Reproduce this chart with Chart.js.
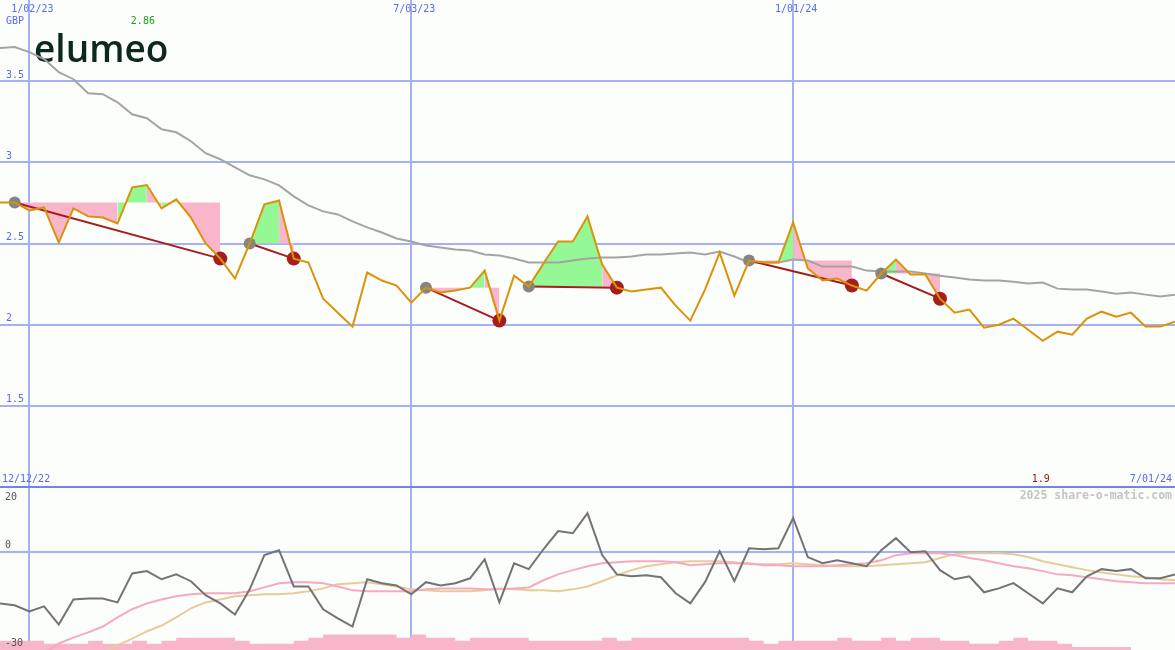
<!DOCTYPE html>
<html>
<head>
<meta charset="utf-8">
<script src="https://cdn.jsdelivr.net/npm/chart.js@4.4.1/dist/chart.umd.min.js"></script>
<style>
  html, body { margin: 0; padding: 0; background: #fcfefc; }
  #wrap { position: relative; width: 1175px; height: 650px; overflow: hidden; }
  #priceBox { position: absolute; left: 0; top: 0; width: 1175px; height: 489px; z-index: 2; }
  #oscBox { position: absolute; left: 0; top: 487px; width: 1175px; height: 163px; z-index: 1; }
</style>
</head>
<body>
<div id="wrap">
  <div id="oscBox"><canvas id="oscChart"></canvas></div>
  <div id="priceBox"><canvas id="priceChart"></canvas></div>
</div>
<script>
// weeks, index 0 = 19 Dec 2022 ... 80 = 1 Jul 2024
const weekIdx = Array.from({length: 81}, (_, i) => i);
const xTickIdx = [2, 28, 54];
const xTickLabels = ['1/02/23', '7/03/23', '1/01/24'];
const firstDate = '12/12/22';
const lastDate = '7/01/24';
const priceTicks = [1.5, 2, 2.5, 3, 3.5];
const oscTicks = [-30, 0, 20];

// weekly close, GBP
const price = [
  2.753, 2.753, 2.704, 2.722, 2.506, 2.716, 2.667, 2.660, 2.623, 2.846,
  2.86, 2.716, 2.772, 2.660, 2.500, 2.407, 2.284, 2.500, 2.741, 2.765,
  2.407, 2.383, 2.160, 2.074, 1.988, 2.321, 2.272, 2.241, 2.136, 2.228,
  2.198, 2.210, 2.228, 2.333, 2.025, 2.302, 2.235, 2.377, 2.512, 2.512,
  2.667, 2.370, 2.228, 2.204, 2.216, 2.228, 2.117, 2.025, 2.216, 2.444,
  2.179, 2.395, 2.383, 2.383, 2.630, 2.346, 2.272, 2.284, 2.241, 2.210,
  2.315, 2.401, 2.309, 2.309, 2.160, 2.074, 2.093, 1.981, 2.000, 2.037,
  1.969, 1.90, 1.957, 1.938, 2.037, 2.080, 2.049, 2.074, 1.988, 1.988, 2.019
];

// long moving average
const avg = [
  3.704, 3.710, 3.679, 3.636, 3.556, 3.512, 3.426, 3.420, 3.370, 3.296,
  3.272, 3.204, 3.185, 3.130, 3.056, 3.019, 2.969, 2.920, 2.895, 2.858,
  2.790, 2.735, 2.698, 2.679, 2.636, 2.599, 2.568, 2.531, 2.512, 2.488,
  2.475, 2.463, 2.457, 2.432, 2.426, 2.407, 2.383, 2.383, 2.383, 2.395,
  2.407, 2.414, 2.414, 2.420, 2.432, 2.432, 2.438, 2.444, 2.432, 2.451,
  2.420, 2.383, 2.383, 2.383, 2.401, 2.395, 2.358, 2.358, 2.358, 2.333,
  2.327, 2.327, 2.327, 2.315, 2.302, 2.290, 2.278, 2.272, 2.272, 2.265,
  2.253, 2.259, 2.222, 2.216, 2.216, 2.204, 2.191, 2.198, 2.185, 2.173, 2.185
];

// falling trends: start week -> end week
const trendStart = [1, 17, 29, 36, 51, 60];
const trendEnd = [15, 20, 34, 42, 58, 64];

// lower panel
const osc = [
  -15.7, -16.3, -18.2, -16.6, -22.2, -14.5, -14.2, -14.2, -15.4, -6.5,
  -5.8, -8.3, -6.8, -8.9, -13.2, -15.7, -19.1, -11.4, -0.9, 0.6,
  -10.5, -10.5, -17.5, -20.3, -22.8, -8.3, -9.5, -10.2, -12.9, -9.2,
  -10.2, -9.5, -8.0, -2.2, -15.4, -3.4, -5.2, 0.9, 6.5, 5.8,
  12.0, -0.9, -6.8, -7.4, -7.1, -7.7, -12.6, -15.7, -9.2, 0.3,
  -8.9, 1.2, 0.9, 1.2, 10.5, -1.5, -3.4, -2.5, -3.4, -4.3,
  0.6, 4.3, 0.0, 0.3, -5.5, -8.3, -7.4, -12.3, -11.1, -9.5,
  -12.6, -15.7, -11.1, -12.3, -7.4, -5.2, -5.8, -5.2, -8.0, -8.0, -6.8
];
const oscAvgFast = [
  null, null, null, -31.0, -28.0, -26.2, -24.6, -22.8, -20.0, -17.5,
  -15.7, -14.5, -13.5, -12.9, -12.6, -12.6, -12.6, -12.0, -10.8, -9.5,
  -9.2, -9.2, -9.5, -10.5, -11.7, -12.0, -12.0, -12.0, -12.0, -11.4,
  -11.1, -11.1, -11.1, -11.4, -11.4, -11.1, -10.8, -8.6, -6.8, -5.5,
  -4.3, -3.4, -3.1, -2.8, -2.8, -2.8, -3.1, -4.0, -3.7, -3.4,
  -3.4, -3.4, -4.0, -4.0, -4.3, -4.3, -4.3, -4.0, -3.7, -3.4,
  -2.5, -0.9, -0.3, -0.3, -0.3, -0.9, -1.8, -2.5, -3.4, -4.3,
  -4.9, -5.8, -6.8, -7.1, -7.7, -8.3, -8.9, -9.2, -9.5, -9.5, -9.5
];
const oscAvgSlow = [
  null, null, null, null, null, null, null, -30.8, -28.6, -26.5,
  -24.3, -22.5, -20.0, -17.2, -15.4, -14.5, -13.5, -13.2, -12.9, -12.9,
  -12.6, -12.0, -11.1, -9.8, -9.5, -9.2, -9.8, -10.5, -11.4, -11.7,
  -12.0, -12.0, -12.0, -11.7, -11.1, -11.4, -11.7, -11.7, -12.0, -11.4,
  -10.5, -8.9, -7.1, -5.5, -4.3, -3.7, -3.1, -2.8, -2.8, -2.8,
  -3.1, -3.7, -3.7, -3.7, -3.4, -3.7, -4.0, -4.3, -4.3, -4.3,
  -4.0, -3.7, -3.4, -3.1, -1.8, -0.6, -0.3, -0.3, -0.3, -0.6,
  -1.5, -2.8, -3.7, -4.6, -5.5, -6.2, -6.8, -7.4, -7.7, -8.3, -8.6
];
const volume = [
  3, 3, 3, 3, 2, 2, 2, 3, 2, 2,
  3, 2, 3, 4, 4, 4, 4, 3, 2, 2,
  2, 3, 4, 5, 5, 5, 5, 5, 4, 5,
  4, 4, 3, 4, 4, 4, 4, 3, 3, 3,
  3, 3, 4, 3, 4, 4, 4, 4, 4, 4,
  4, 4, 3, 2, 3, 3, 3, 3, 4, 3,
  3, 4, 3, 4, 4, 3, 3, 2, 2, 3,
  4, 3, 3, 2, 1, 1, 1, 1, 0, 0, 0
];

const blueGrid = '#a5b1f4';
const darkBlue = '#7283ec';
const blueText = '#5869f0';
const pink = '#f9b5c9';
const green = '#94f894';

// level each trend is measured against, and the price inside each trend
const level = price.map(() => null);
const inTrend = price.map(() => null);
trendStart.forEach((s, k) => {
  for (let i = s; i <= trendEnd[k]; i++) {
    level[i] = price[s];
    inTrend[i] = price[i];
  }
});
const trendLine = [];
trendStart.forEach((s, k) => {
  const e = trendEnd[k];
  trendLine.push({x: s, y: price[s]}, {x: e, y: price[e]}, {x: e, y: null});
});
const hiIdx = price.indexOf(Math.max(...price));
const loIdx = price.indexOf(Math.min(...price));

function xAxis() {
  return {
    type: 'linear', min: 0, max: 80,
    afterBuildTicks: s => { s.ticks = xTickIdx.map(v => ({value: v})); },
    ticks: {display: false},
    grid: {color: blueGrid, lineWidth: 2, drawTicks: false},
    border: {display: false}
  };
}

const priceText = {
  id: 'priceText',
  beforeDatasetsDraw(chart) {
    const c = chart.ctx;
    c.save();
    c.font = "600 37px 'Open Sans'";
    c.fillStyle = '#0d291d';
    c.textAlign = 'left';
    c.textBaseline = 'alphabetic';
    c.fillText('elumeo', 34, 62);
    c.restore();
  },
  afterDraw(chart) {
    const c = chart.ctx, x = chart.scales.x, y = chart.scales.y;
    c.save();
    c.font = "10px 'DejaVu Sans Mono'";
    c.textBaseline = 'middle';
    c.fillStyle = blueText;
    c.textAlign = 'center';
    xTickIdx.forEach((v, k) => c.fillText(xTickLabels[k], x.getPixelForValue(v) + 3, 9));
    c.textAlign = 'left';
    c.fillText('GBP', 6, 21);
    priceTicks.forEach(v => c.fillText(String(v), 6, y.getPixelForValue(v) - 6));
    c.fillText(firstDate, 2, 479);
    c.textAlign = 'right';
    c.fillText(lastDate, 1172, 479);
    c.textAlign = 'center';
    c.fillStyle = '#229c22';
    c.fillText(String(price[hiIdx]), x.getPixelForValue(hiIdx) - 4, 21);
    c.fillStyle = '#a31414';
    c.fillText(String(price[loIdx]), x.getPixelForValue(loIdx) - 2, 479);
    c.restore();
  }
};

const oscText = {
  id: 'oscText',
  afterDraw(chart) {
    const c = chart.ctx, y = chart.scales.y, area = chart.chartArea;
    c.save();
    c.font = "10px 'DejaVu Sans Mono'";
    c.textBaseline = 'middle';
    c.textAlign = 'left';
    c.fillStyle = '#555555';
    oscTicks.forEach(v => {
      const py = y.getPixelForValue(v);
      c.fillText(String(v), 5, py - 7 < area.top + 4 ? py + 10 : py - 7);
    });
    c.font = "bold 11.5px 'DejaVu Sans Mono'";
    c.fillStyle = '#c4c4c4';
    c.textAlign = 'right';
    c.fillText('2025 share-o-matic.com', 1172, 9);
    c.restore();
  }
};

const common = {
  animation: false,
  responsive: true,
  maintainAspectRatio: false,
  events: [],
  plugins: {legend: {display: false}, tooltip: {enabled: false}}
};

// PRICE PANEL
let priceChart = new Chart(document.getElementById('priceChart'), {
  type: 'line',
  data: {
    labels: weekIdx,
    datasets: [
      {data: price, borderColor: '#dc9208', borderWidth: 2, pointRadius: 0, order: 0},
      {data: trendStart.map(i => ({x: i, y: price[i]})), showLine: false, pointRadius: 6,
        pointBackgroundColor: '#858585', pointBorderWidth: 0, order: 1},
      {data: trendEnd.map(i => ({x: i, y: price[i]})), showLine: false, pointRadius: 7,
        pointBackgroundColor: '#a41e1e', pointBorderWidth: 0, order: 1},
      {data: trendLine, borderColor: '#a41e1e', borderWidth: 2, pointRadius: 0, spanGaps: false, order: 2},
      {data: avg, borderColor: '#a4a4a4', borderWidth: 2, pointRadius: 0, order: 3},
      {data: level, borderColor: 'rgba(0,0,0,0)', borderWidth: 0, pointRadius: 0, order: 5},
      {data: inTrend, borderColor: 'rgba(0,0,0,0)', borderWidth: 0, pointRadius: 0,
        backgroundColor: pink, fill: 5, order: 4,
        segment: {backgroundColor: c => price[c.p1DataIndex] > level[c.p1DataIndex] ? green : pink}}
    ]
  },
  options: Object.assign({}, common, {
    layout: {padding: {top: 0, left: 0, right: 0, bottom: 2}, autoPadding: false},
    scales: {
      x: xAxis(),
      y: {
        type: 'linear', min: 1, max: 4,
        afterBuildTicks: s => { s.ticks = [1].concat(priceTicks).map(v => ({value: v})); },
        ticks: {display: false},
        grid: {color: c => c.tick.value === 1 ? darkBlue : blueGrid, lineWidth: 2, drawTicks: false},
        border: {display: false}
      }
    }
  }),
  plugins: [priceText]
});

// OSCILLATOR + VOLUME PANEL
let oscChart = new Chart(document.getElementById('oscChart'), {
  type: 'line',
  data: {
    labels: weekIdx,
    datasets: [
      {data: osc, borderColor: '#737373', borderWidth: 2, pointRadius: 0, order: 0},
      {data: oscAvgFast, borderColor: '#f6a9c0', borderWidth: 2, pointRadius: 0, order: 1},
      {data: oscAvgSlow, borderColor: '#e6cc9a', borderWidth: 2, pointRadius: 0, order: 2},
      {data: volume, yAxisID: 'yv', stepped: 'after', borderColor: 'rgba(0,0,0,0)', borderWidth: 0,
        backgroundColor: pink, fill: 'start', pointRadius: 0, order: 3}
    ]
  },
  options: Object.assign({}, common, {
    layout: {padding: 0, autoPadding: false},
    scales: {
      x: xAxis(),
      y: {
        type: 'linear', min: -30, max: 20,
        afterBuildTicks: s => { s.ticks = oscTicks.map(v => ({value: v})); },
        ticks: {display: false},
        grid: {color: c => c.tick.value === 0 ? blueGrid : 'rgba(0,0,0,0)', lineWidth: 2, drawTicks: false},
        border: {display: false}
      },
      yv: {type: 'linear', display: false, min: 0, max: 53}
    }
  }),
  plugins: [oscText]
});
</script>
</body>
</html>
